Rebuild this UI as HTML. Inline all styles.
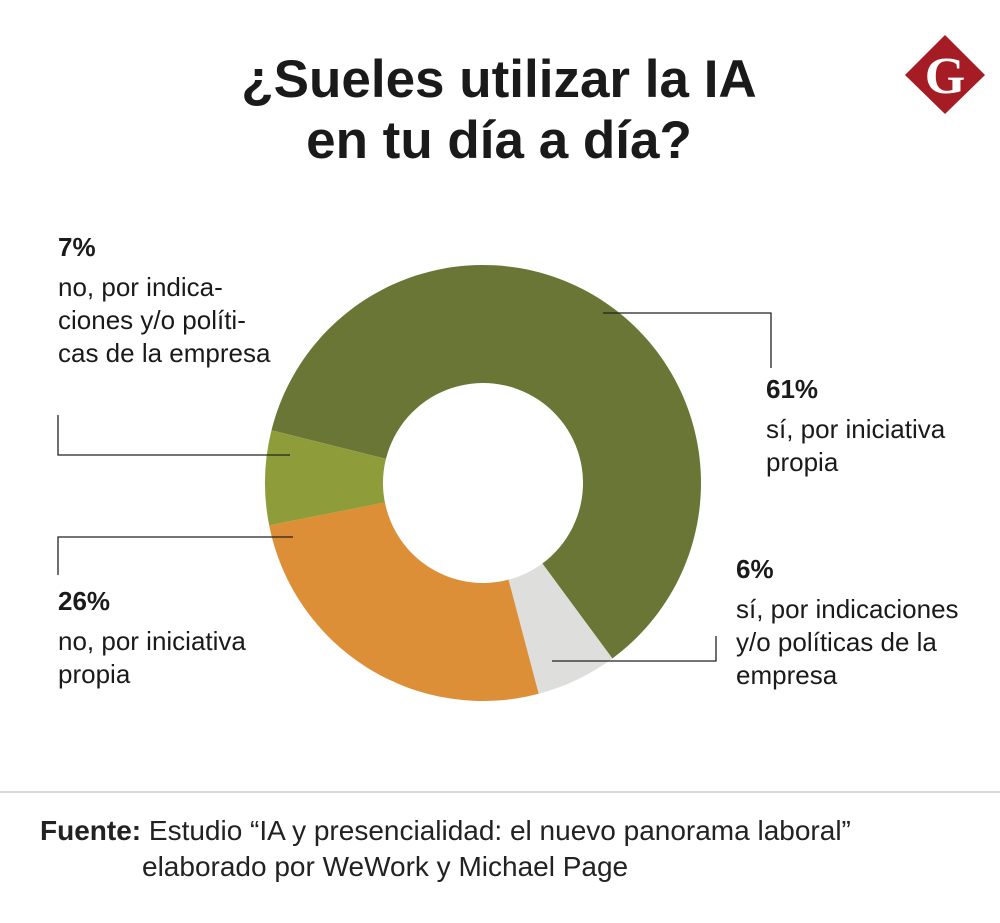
<!DOCTYPE html>
<html><head><meta charset="utf-8"><style>
body{margin:0;background:#fff;width:1000px;height:923px;overflow:hidden;font-family:"Liberation Sans",sans-serif;}
svg{position:absolute;left:0;top:0}
</style></head><body>
<svg width="1000" height="923">
<g font-weight="bold" font-size="53" fill="#1a1a1a" text-anchor="middle">
<text x="499" y="97">¿Sueles utilizar la IA</text>
<text x="499" y="158">en tu día a día?</text>
</g>
<g>
<polygon points="945,35 985,75 945,114 905,75" fill="#a51c24"/>
<text x="945" y="93" text-anchor="middle" font-family="Liberation Serif,serif" font-weight="bold" font-size="52" fill="#fff">G</text>
</g>
<g id="donut"></g>
<g stroke="#222" stroke-width="1.3" fill="none">
<polyline points="603,313 771,313 771,368"/>
<polyline points="552,661 716,661 716,636"/>
<polyline points="290,455 58,455 58,415"/>
<polyline points="293,537 58,537 58,575"/>
</g>
<g font-size="26" fill="#1a1a1a">
<text x="58" y="256" font-weight="bold">7%</text>
<text x="58" y="296">no, por indica-</text>
<text x="58" y="329">ciones y/o políti-</text>
<text x="58" y="362">cas de la empresa</text>
<text x="766" y="398" font-weight="bold">61%</text>
<text x="766" y="438">sí, por iniciativa</text>
<text x="766" y="471">propia</text>
<text x="736" y="578" font-weight="bold">6%</text>
<text x="736" y="618">sí, por indicaciones</text>
<text x="736" y="651">y/o políticas de la</text>
<text x="736" y="684">empresa</text>
<text x="58" y="610" font-weight="bold">26%</text>
<text x="58" y="650">no, por iniciativa</text>
<text x="58" y="683">propia</text>
</g>
<line x1="0" y1="792" x2="1000" y2="792" stroke="#ccc" stroke-width="1.5"/>
<g font-size="28" fill="#222">
<text x="40" y="840"><tspan font-weight="bold">Fuente:</tspan> Estudio “IA y presencialidad: el nuevo panorama laboral”</text>
<text x="142" y="876">elaborado por WeWork y Michael Page</text>
</g>
</svg>
<script>
const categories=["sí, por iniciativa propia","sí, por indicaciones","no, por iniciativa propia","no, por indicaciones"];
const values=[61,6,26,7];
const colors=["#6a7635","#dededc","#dc8f37","#8f9c3a"];
const cx=483,cy=483,R=218,r=100,start=284;
const g=document.getElementById('donut');
const total=values.reduce((a,b)=>a+b,0);
function pt(a,rad){const t=a*Math.PI/180;return [cx+rad*Math.sin(t),cy-rad*Math.cos(t)];}
let a0=start;
values.forEach((v,i)=>{
const a1=a0+v/total*360;const lg=(a1-a0)>180?1:0;
const p1=pt(a0,R),p2=pt(a1,R),p3=pt(a1,r),p4=pt(a0,r);
const p=document.createElementNS('http://www.w3.org/2000/svg','path');
p.setAttribute('d',`M${p1}A${R},${R} 0 ${lg} 1 ${p2}L${p3}A${r},${r} 0 ${lg} 0 ${p4}Z`);
p.setAttribute('fill',colors[i]);


g.appendChild(p);a0=a1;});
</script>
</body></html>
